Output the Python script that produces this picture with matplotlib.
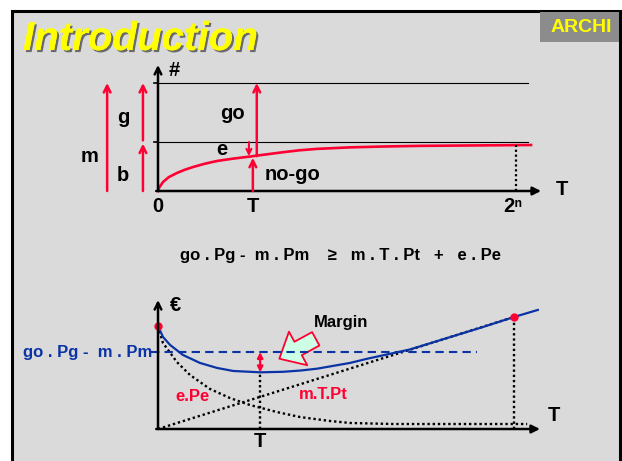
import numpy as np
import matplotlib.pyplot as plt
import matplotlib.patheffects as pe
from matplotlib.patches import Rectangle, FancyArrowPatch

W, H = 622, 461
RED = "#ff0033"
BLUE = "#0a33a6"
FONT = ["Liberation Sans", "DejaVu Sans"]

# --- upper panel: number of tests vs. test time T (2^n = 10 units) ---
t_curve = [0, 0.03, 0.14, 0.30, 0.53, 0.75, 0.98, 1.3, 1.65, 2.1, 2.57, 3.0,
           3.49, 3.95, 4.44, 5.36, 6.3, 7.32, 10.42]
n_curve = [0, 3.0, 8.3, 12.8, 16.7, 19.7, 22.2, 25.2, 27.8, 30.0, 31.9, 33.8,
           35.9, 37.7, 39.0, 40.4, 41.2, 41.8, 42.6]
m_level = 100.0   # m : all chips
b_level = 45.4    # b : bad chips
t_test = 2.65     # chosen test time T
t_max = 10.0      # 2^n

# --- lower panel: cost vs. test time ---
cost_t = [0, 0.14, 0.34, 0.70, 1.18, 1.66, 2.11, 2.87, 3.51, 4.0, 4.47,
          5.39, 5.87, 7.08, 8.20, 9.13, 10.0, 10.67]
cost_total = [99, 88.5, 80.8, 71.2, 63.5, 58.7, 55.8, 54.5, 55.0, 56.2, 58.0,
              63.5, 67.5, 76.5, 88.3, 98.1, 107.7, 114.5]
escape_t = [0, 0.14, 0.53, 0.90, 1.46, 2.02, 2.58, 3.34, 3.99, 4.83, 5.39, 6.6, 10.37]
escape_cost = [99, 82.7, 64.4, 51.9, 38.5, 29.8, 23.1, 16.3, 11.5, 7.7, 5.8, 4.8, 4.8]
test_t = [0, 10.0]
test_cost = [0, 107.7]
gain_level = 74.0   # go.Pg - m.Pm
t_opt = 2.87

fig = plt.figure(figsize=(W / 100, H / 100), dpi=100, facecolor="white")
plt.rcParams["font.family"] = FONT
plt.rcParams["font.weight"] = "bold"


def pixel_axes(left, top, right, bottom):
    return fig.add_axes([left / W, 1 - bottom / H, (right - left) / W, (bottom - top) / H])


# slide background
bg = fig.add_axes([0, 0, 1, 1])
bg.set_xlim(0, W)
bg.set_ylim(H, 0)
bg.axis("off")
bg.add_patch(Rectangle((12, 11), 608, 470, fc="#dadada", ec="black", lw=2.2))
bg.add_patch(Rectangle((540, 12), 79, 30, fc="#8c8c8c", ec="none"))
bg.text(581, 27, "ARCHI", color="#ffff00", fontsize=14, ha="center", va="center",
        fontweight="bold")
bg.text(23, 39, "Introduction", color="#ffff00", fontsize=29, ha="left", va="center",
        fontweight="bold", style="italic",
        path_effects=[pe.withSimplePatchShadow(offset=(1.5, -1.5), shadow_rgbFace="#6a6a6a",
                                               alpha=1.0), pe.Normal()])
bg.text(340, 255, "go . Pg -  m . Pm    \u2265   m . T . Pt   +   e . Pe",
        fontsize=12, ha="center", va="center", fontweight="bold")


def arrow(ax, tail, tip, color, style="->", lw=1.8, ms=12):
    ax.annotate("", xy=tip, xytext=tail,
                arrowprops=dict(arrowstyle=style, color=color, lw=lw, mutation_scale=ms,
                                shrinkA=0, shrinkB=0))


# ---------------- upper panel ----------------
ax1 = pixel_axes(60, 55, 580, 215)
ax1.set_xlim(-2.737, 11.788)
ax1.set_ylim(-22.22, 125.93)
ax1.axis("off")

ax1.plot([0, 10.34], [m_level, m_level], color="black", lw=0.8)
ax1.plot([0, 10.34], [b_level, b_level], color="black", lw=0.8)
for lv in (m_level, b_level):
    ax1.plot([-0.12, 0], [lv, lv], color="black", lw=1.2)
ax1.plot(t_curve, n_curve, color=RED, lw=1.9)
n_end = np.interp(t_max, t_curve, n_curve)
ax1.plot([t_max, t_max], [0, n_end], color="black", lw=1.6, ls=(0, (1, 1.2)))
arrow(ax1, (0, 0), (0, 116.7), "black", "->", 1.8, 12)
arrow(ax1, (-0.05, 0), (10.7, 0), "black", "-|>", 1.8, 12)

n_T = np.interp(t_test, t_curve, n_curve)
arrow(ax1, (-1.42, 0), (-1.42, m_level), RED)
arrow(ax1, (-0.42, b_level + 1.5), (-0.42, m_level), RED)
arrow(ax1, (-0.42, 0), (-0.42, b_level - 1.5), RED)
arrow(ax1, (t_test + 0.11, n_T), (t_test + 0.11, m_level), RED)
arrow(ax1, (t_test - 0.11, b_level), (t_test - 0.11, n_T), RED, "->", 1.5, 9)
arrow(ax1, (t_test, 0), (t_test, n_T - 1.5), RED)

lab = dict(fontsize=14.5, ha="center", va="center", fontweight="bold")
ax1.text(0.45, 112, "#", **lab)
ax1.text(11.28, 1.85, "T", **lab)
ax1.text(0, -14.8, "0", **lab)
ax1.text(t_test, -14.8, "T", **lab)
ax1.text(9.92, -14.8, "2\u207f", **lab)
ax1.text(-0.98, 67.6, "g", **lab)
ax1.text(-1.9, 31.5, "m", **lab)
ax1.text(-0.98, 14.8, "b", **lab)
ax1.text(2.09, 72.2, "go", **lab)
ax1.text(1.79, 38, "e", **lab)
ax1.text(3.77, 15.7, "no-go", **lab)

# ---------------- lower panel ----------------
ax2 = pixel_axes(60, 290, 580, 455)
ax2.set_xlim(-2.753, 11.854)
ax2.set_ylim(-25, 133.65)
ax2.axis("off")

dots = dict(color="black", lw=1.7, ls=(0, (1, 1.2)))
ax2.plot(escape_t, escape_cost, **dots)
ax2.plot(test_t, test_cost, **dots)
c_opt = np.interp(t_opt, cost_t, cost_total)
ax2.plot([t_opt, t_opt], [0, c_opt], **dots)
ax2.plot([test_t[1], test_t[1]], [0, test_cost[1]], **dots)
ax2.plot([-0.2, 8.96], [gain_level, gain_level], color=BLUE, lw=1.5, ls=(0, (4, 2.5)))
ax2.plot(cost_t, cost_total, color=BLUE, lw=1.6)
ax2.plot([0, test_t[1]], [cost_total[0], test_cost[1]], "o", color=RED, ms=6, mec="none")

arrow(ax2, (0, 0), (0, 124), "black", "->", 1.8, 12)
arrow(ax2, (-0.05, 0), (10.73, 0), "black", "-|>", 1.8, 12)
arrow(ax2, (t_opt, gain_level), (t_opt, c_opt), RED, "<|-|>", 1.6, 8)
ax2.add_patch(FancyArrowPatch((4.5, 88), (3.34, 66.3),
                              arrowstyle="simple,head_length=0.7,head_width=1.25,tail_width=0.5",
                              mutation_scale=22, fc="#ccffe6", ec=RED, lw=1.3))

ax2.text(0.48, 119, "\u20ac", **lab)
ax2.text(11.12, 12.5, "T", **lab)
ax2.text(t_opt, -12.5, "T", **lab)
ax2.text(5.14, 102, "Margin", fontsize=12, ha="center", va="center", fontweight="bold")
ax2.text(0.98, 30.8, "e.Pe", fontsize=12, color=RED, ha="center", va="center",
         fontweight="bold")
ax2.text(4.63, 32.7, "m.T.Pt", fontsize=12, color=RED, ha="center", va="center",
         fontweight="bold")
ax2.text(-0.17, gain_level, "go . Pg -  m . Pm", fontsize=12, color=BLUE, ha="right",
         va="center", fontweight="bold")

fig.savefig("out.png", dpi=100, facecolor="white")
